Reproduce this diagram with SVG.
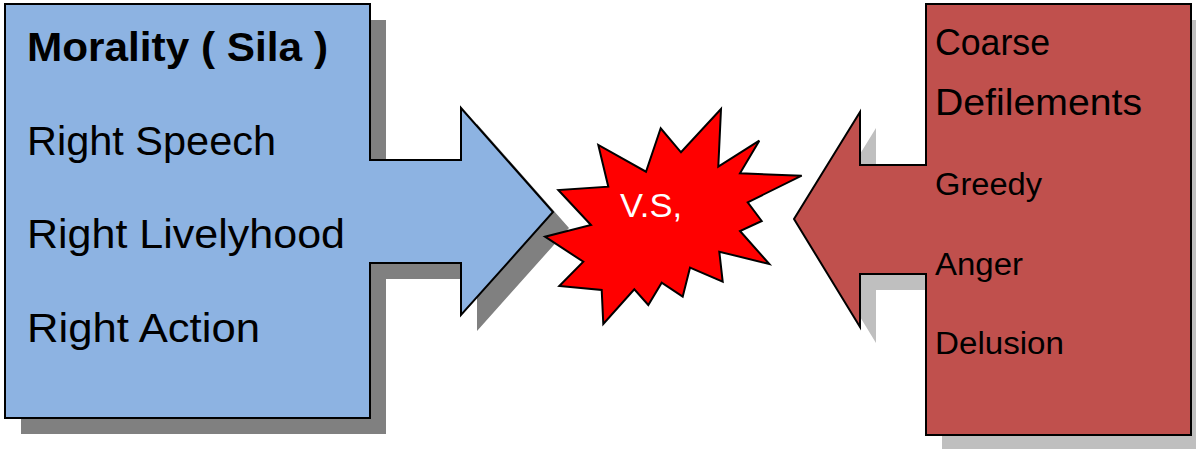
<svg xmlns="http://www.w3.org/2000/svg" width="1196" height="449" viewBox="0 0 1196 449">
<style>
.t{font-family:"Liberation Sans",Arial,sans-serif;fill:#000}
.shape{stroke:#000;stroke-width:2;stroke-linejoin:miter}
</style>
<rect width="1196" height="449" fill="#fff"/>
<g id="morality">
<path d="M21,20 H386 V176 H477 V124 L569,228 L477,331 V279 H386 V434 H21 Z" fill="#808080"/>
<path class="shape" d="M5,4 H370 V160 H461 V108 L553,212 L461,315 V263 H370 V418 H5 Z" fill="#8DB3E2"/>
<text class="t" x="27" y="61" font-size="41.5" font-weight="bold" textLength="301" lengthAdjust="spacingAndGlyphs">Morality ( Sila )</text>
<text class="t" x="27" y="155" font-size="41.5" textLength="249" lengthAdjust="spacingAndGlyphs">Right Speech</text>
<text class="t" x="27" y="248" font-size="41.5" textLength="318" lengthAdjust="spacingAndGlyphs">Right Livelyhood</text>
<text class="t" x="27" y="342" font-size="41.5" textLength="233" lengthAdjust="spacingAndGlyphs">Right Action</text>
</g>
<g id="defilements">
<path d="M942,20 H1207 V451 H942 V290 H876 V343 L810,235 L876,128 V181 H942 Z" fill="#BFBFBF"/>
<path class="shape" d="M926,4 H1191 V435 H926 V274 H860 V327 L794,219 L860,112 V165 H926 Z" fill="#C0504D"/>
<text class="t" x="935" y="55" font-size="36" textLength="115" lengthAdjust="spacingAndGlyphs">Coarse</text>
<text class="t" x="935" y="115" font-size="37" textLength="207" lengthAdjust="spacingAndGlyphs">Defilements</text>
<text class="t" x="935" y="195" font-size="31" textLength="107" lengthAdjust="spacingAndGlyphs">Greedy</text>
<text class="t" x="935" y="275" font-size="31" textLength="88" lengthAdjust="spacingAndGlyphs">Anger</text>
<text class="t" x="935" y="354" font-size="31" textLength="129" lengthAdjust="spacingAndGlyphs">Delusion</text>
</g>
<g id="versus">
<path class="shape" fill="#FF0000" d="M721,109 L718.3,166.7 L759.3,140.7 L740,173.3 L801.7,175.7 L747.7,202.3 L761.7,221 L740,231 L769.3,264 L719.3,251.7 L722.7,281.7 L690,267.7 L682.7,296.7 L661.7,282.7 L648.3,305 L634.3,289.3 L603.3,324 L601.7,290 L559.3,286 L583.3,261.7 L545,236.7 L591,225 L558.3,190 L608.3,186.7 L598.3,145 L646,171.7 L660.7,128.3 L681,152.3 Z"/>
<text class="t" x="620" y="217" font-size="33" textLength="62" lengthAdjust="spacingAndGlyphs" style="fill:#fff">V.S,</text>
</g>
<g id="connectors"/>
</svg>
